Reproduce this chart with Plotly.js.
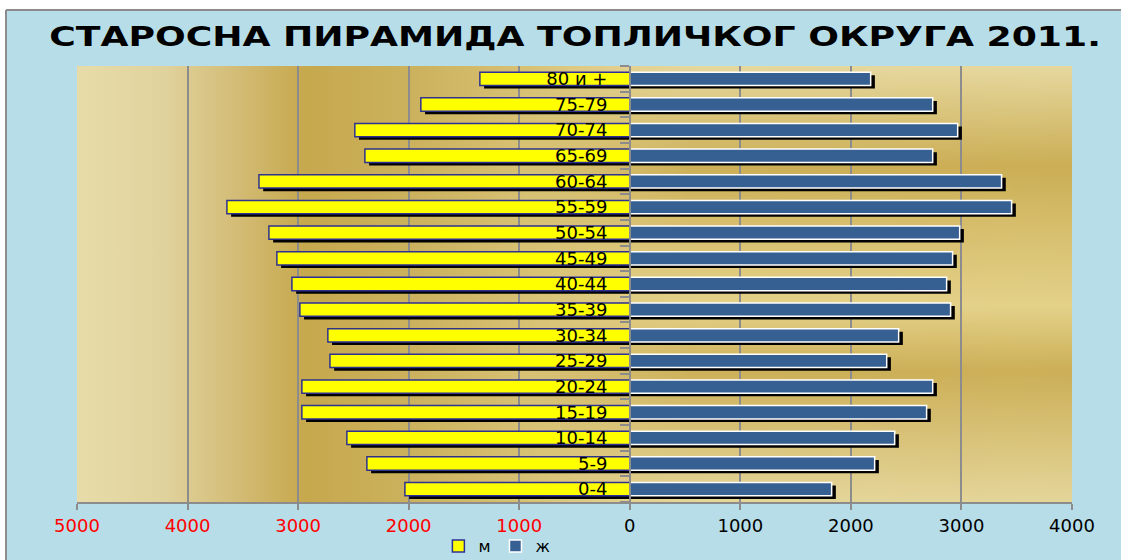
<!DOCTYPE html>
<html>
<head>
<meta charset="utf-8">
<script src="https://cdn.plot.ly/plotly-3.0.1.min.js"></script>
<style>
  html, body { margin: 0; padding: 0; background: #ffffff; }
  #plotArea { width: 1121px; height: 560px; }
  /* the original title is drawn wide */
  #plotArea .gtitle { transform-box: fill-box; transform-origin: center; transform: scaleX(1.34); }
</style>
</head>
<body>
<div id="plotArea"></div>
<script>
// Age groups, bottom to top
var ageGroups = ["0-4", "5-9", "10-14", "15-19", "20-24", "25-29", "30-34", "35-39",
  "40-44", "45-49", "50-54", "55-59", "60-64", "65-69", "70-74", "75-79", "80 и +"];

// м (male) and ж (female), persons
var male = [2034, 2378, 2559, 2966, 2966, 2712, 2731, 2984, 3056, 3192, 3264, 3644, 3354, 2396, 2487, 1890, 1356];
var female = [1826, 2215, 2396, 2685, 2740, 2324, 2432, 2902, 2866, 2920, 2984, 3454, 3363, 2740, 2966, 2740, 2179];

// x ticks: left side shows absolute values in red
var tickVals = [-5000, -4000, -3000, -2000, -1000, 0, 1000, 2000, 3000, 4000];
var tickText = tickVals.map(function (v) {
  return v < 0 ? '<span style="color:#ff0000">' + Math.abs(v) + "</span>" : String(v);
});

var maleNeg = male.map(function (v) { return -v; });

// golden background of the plot area
var bgSvg =
  '<svg xmlns="http://www.w3.org/2000/svg" width="995" height="436" viewBox="0 0 995 436" preserveAspectRatio="none">' +
  '<defs>' +
  '<linearGradient id="h" x1="0" y1="0" x2="1" y2="0">' +
  '<stop offset="0" stop-color="#e7dca9"/><stop offset="0.09" stop-color="#e0d29c"/>' +
  '<stop offset="0.16" stop-color="#d3bc76"/><stop offset="0.23" stop-color="#c6a84d"/>' +
  '<stop offset="0.34" stop-color="#ccb25e"/><stop offset="0.46" stop-color="#d8c275"/>' +
  '<stop offset="0.6" stop-color="#e0cc84"/><stop offset="1" stop-color="#e0cc84"/>' +
  '</linearGradient>' +
  '<linearGradient id="v" x1="0" y1="0" x2="0" y2="1">' +
  '<stop offset="0" stop-color="#e6d9a2"/><stop offset="0.23" stop-color="#c8aa50"/>' +
  '<stop offset="0.55" stop-color="#e4d28a"/><stop offset="0.7" stop-color="#c9ab52"/>' +
  '<stop offset="1" stop-color="#e4d69c"/>' +
  '</linearGradient>' +
  '<linearGradient id="m" x1="0" y1="0" x2="1" y2="0">' +
  '<stop offset="0" stop-color="#fff" stop-opacity="0"/><stop offset="0.3" stop-color="#fff" stop-opacity="0.85"/>' +
  '<stop offset="1" stop-color="#fff" stop-opacity="0.9"/>' +
  '</linearGradient>' +
  '<mask id="mk"><rect x="450" y="0" width="545" height="436" fill="url(#m)"/></mask>' +
  '</defs>' +
  '<rect width="995" height="436" fill="url(#h)"/>' +
  '<rect x="450" y="0" width="545" height="436" fill="url(#v)" mask="url(#mk)"/>' +
  '</svg>';

var barW = 0.52;
var shiftX = 38;

var traces = [
  { // shadows first
    type: "bar", orientation: "h", y: ageGroups, x: maleNeg, base: shiftX,
    width: barW, offset: -barW / 2 - 0.12,
    marker: { color: "#000000" }, showlegend: false, hoverinfo: "skip"
  },
  {
    type: "bar", orientation: "h", y: ageGroups, x: female, base: shiftX,
    width: barW, offset: -barW / 2 - 0.12,
    marker: { color: "#000000" }, showlegend: false, hoverinfo: "skip"
  },
  {
    type: "bar", orientation: "h", name: "м", y: ageGroups, x: maleNeg,
    width: barW, offset: -barW / 2,
    marker: { color: "#ffff00", line: { color: "#2e3192", width: 1.5 } }
  },
  {
    type: "bar", orientation: "h", name: "ж", y: ageGroups, x: female,
    width: barW, offset: -barW / 2,
    marker: { color: "#366092", line: { color: "#ffffff", width: 1.5 } }
  }
];

var layout = {
  width: 1121,
  height: 560,
  margin: { l: 77, r: 49, t: 66, b: 58, autoexpand: false },
  paper_bgcolor: "#b7dee8",
  plot_bgcolor: "rgba(0,0,0,0)",
  barmode: "overlay",
  showlegend: true,
  font: { family: "DejaVu Sans", color: "#000000" },
  title: {
    text: "<b>СТАРОСНА ПИРАМИДА ТОПЛИЧКОГ ОКРУГА 2011.</b>",
    font: { family: "DejaVu Sans", size: 27, color: "#000000" },
    x: 0.513, xanchor: "center", y: 0.935, yanchor: "middle"
  },
  xaxis: {
    range: [-5000, 4000],
    tickvals: tickVals,
    ticktext: tickText,
    tickfont: { size: 18, color: "#000000" },
    showgrid: true, gridcolor: "#8c8c8c", gridwidth: 2,
    zeroline: false,
    showline: true, linecolor: "#8c8c8c", linewidth: 2,
    ticks: "outside", ticklen: 6, tickcolor: "#8c8c8c", tickwidth: 2
  },
  yaxis: {
    type: "category",
    anchor: "free",
    position: 553 / 995,
    range: [-0.5, 16.5],
    showgrid: false,
    showline: true, linecolor: "#8c8c8c", linewidth: 2,
    ticks: "outside", tickson: "boundaries", ticklen: 9, tickcolor: "#8c8c8c", tickwidth: 2,
    tickfont: { size: 18, color: "#000000" },
    ticklabelstandoff: 18
  },
  legend: {
    orientation: "h",
    x: 0.422, xanchor: "center",
    y: -0.101, yanchor: "middle",
    bgcolor: "rgba(0,0,0,0)",
    font: { size: 16, color: "#000000" },
    itemwidth: 30
  },
  images: [{
    source: "data:image/svg+xml;charset=utf-8," + encodeURIComponent(bgSvg),
    xref: "paper", yref: "paper", x: 0, y: 1, sizex: 1, sizey: 1,
    xanchor: "left", yanchor: "top", sizing: "stretch", layer: "below"
  }],
  shapes: [
    // white strip top & left of the frame
    { type: "rect", xref: "paper", yref: "paper", layer: "below",
      x0: -0.08, x1: 1.06, y0: (502 - 10) / 436, y1: 1.16,
      fillcolor: "#ffffff", line: { width: 0 } },
    { type: "rect", xref: "paper", yref: "paper", layer: "below",
      x0: -0.08, x1: (5 - 77) / 995, y0: -0.14, y1: 1.16,
      fillcolor: "#ffffff", line: { width: 0 } },
    { type: "line", xref: "paper", yref: "paper", layer: "below",
      x0: (6 - 77) / 995, x1: 1.06, y0: (502 - 10) / 436, y1: (502 - 10) / 436,
      line: { color: "#8c8c8c", width: 2 } },
    { type: "line", xref: "paper", yref: "paper", layer: "below",
      x0: (6 - 77) / 995, x1: (6 - 77) / 995, y0: -0.14, y1: (502 - 10) / 436,
      line: { color: "#8c8c8c", width: 2 } }
  ]
};

Plotly.newPlot("plotArea", traces, layout, { displayModeBar: false, staticPlot: true });
</script>
</body>
</html>
